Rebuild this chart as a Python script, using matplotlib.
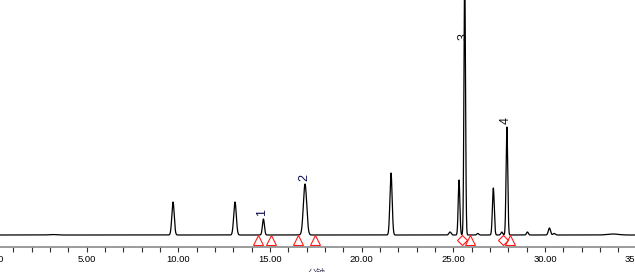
import numpy as np
import matplotlib
matplotlib.use("Agg")
import matplotlib.pyplot as plt
from matplotlib.ticker import MultipleLocator, FormatStrFormatter

# ---- data ----
peak_times   = [3.10, 9.71, 13.09, 14.64, 16.91, 21.60, 24.82, 25.31, 25.62, 26.33,
                27.18, 27.64, 27.92, 29.04, 30.24, 30.50, 33.70]
peak_heights = [0.5, 33.0, 33.0, 16.0, 51.0, 62.0, 3.0, 55.0, 260.0, 1.5,
                47.0, 3.0, 108.0, 3.0, 7.0, 1.5, 1.0]
peak_sigmas  = [0.20, 0.065, 0.070, 0.055, 0.090, 0.060, 0.06, 0.045, 0.042, 0.05,
                0.05, 0.05, 0.045, 0.05, 0.06, 0.06, 0.30]

labelled_times   = [14.64, 16.91, 25.62, 27.92]
labelled_heights = [16.0, 51.0, 260.0, 108.0]
peak_names       = ["1", "2", "3", "4"]
label_colors     = ["#0a0a50", "#0a0a50", "#101010", "#101010"]

triangle_times = [14.36, 15.06, 16.55, 17.46, 25.91, 28.10]
diamond_times  = [25.46, 27.70]

x_ticks_major = [0, 5, 10, 15, 20, 25, 30, 35]
x_label = "分钟"

# ---- build trace from the peak table ----
t = np.arange(0.0, 35.0001, 0.004)
signal = np.zeros_like(t)
for tc, h, s in zip(peak_times, peak_heights, peak_sigmas):
    signal += h * np.exp(-0.5 * ((t - tc) / s) ** 2)

W, H = 635, 272
fig = plt.figure(figsize=(W / 100, H / 100), dpi=100)
ax_left_px, ax_right_px = -5.0, 636.7
ax_bottom_px = H - 246.7
ax = fig.add_axes([ax_left_px / W, ax_bottom_px / H,
                   (ax_right_px - ax_left_px) / W, (H - ax_bottom_px) / H])
ax.set_xlim(0, 35)
ax.set_ylim(-11.7, 235)

ax.plot(t, signal, color="black", lw=0.9, solid_joinstyle="round")

mark_y = -4.5
ax.plot(triangle_times, [mark_y] * len(triangle_times), linestyle="none",
        marker="^", markersize=7.0, markerfacecolor="none",
        markeredgecolor="#ff1a1a", markeredgewidth=0.8, clip_on=False)
ax.plot(diamond_times, [mark_y] * len(diamond_times), linestyle="none",
        marker="D", markersize=5.0, markerfacecolor="none",
        markeredgecolor="#ff1a1a", markeredgewidth=0.8, clip_on=False)

cap = 192.0
for tc, h, name, c in zip(labelled_times, labelled_heights, peak_names, label_colors):
    ax.annotate(name, xy=(tc, min(h, cap)), xytext=(-1, 3), textcoords="offset pixels",
                rotation=90, ha="center", va="bottom", fontsize=9,
                family="Liberation Sans", color=c)

for s in ["top", "right", "left"]:
    ax.spines[s].set_visible(False)
ax.spines["bottom"].set_color("#8a8a8a")
ax.spines["bottom"].set_linewidth(1.2)
ax.set_yticks([])
ax.set_xticks(x_ticks_major)
ax.xaxis.set_major_formatter(FormatStrFormatter("%.2f"))
ax.xaxis.set_minor_locator(MultipleLocator(1))
ax.tick_params(axis="x", which="both", length=3.5, width=0.8, color="#303030",
               direction="out", pad=2.5, labelsize=6.8)
for lab in ax.get_xticklabels():
    lab.set_family("Liberation Sans")

fig.text(317 / W, 3.5 / H, x_label, ha="center", va="top", fontsize=6.5,
         family=["Noto Sans CJK SC", "DejaVu Sans"], color="#404060")

fig.savefig("out.png", dpi=100)
